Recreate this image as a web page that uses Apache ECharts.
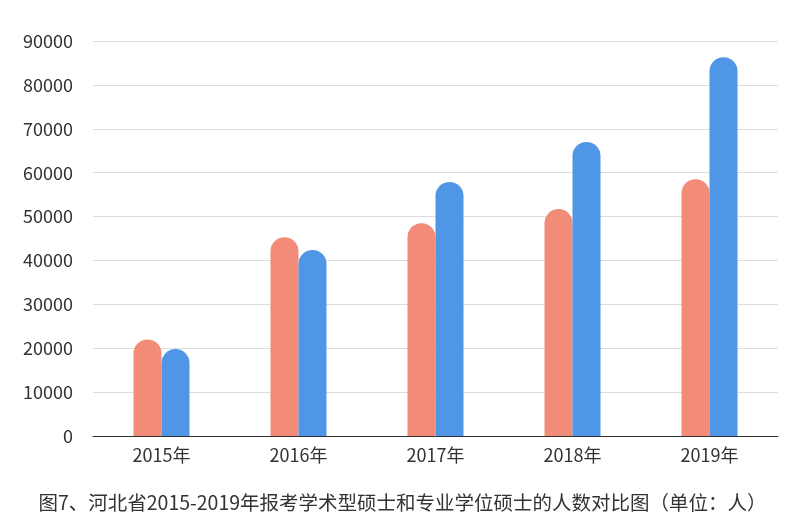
<!DOCTYPE html>
<html><head><meta charset="utf-8">
<script src="https://cdn.jsdelivr.net/npm/echarts@6/dist/echarts.min.js"></script>
<style>html,body{margin:0;padding:0;background:#fff}#c{width:805px;height:522px}</style>
</head><body><div id="c"></div>
<script>
const categories=['2015年','2016年','2017年','2018年','2019年'];
const academic=[22000,45300,48500,51700,58500];
const professional=[19800,42400,57900,67000,86300];
const title='图7、河北省2015-2019年报考学术型硕士和专业学位硕士的人数对比图（单位：人）';
const ch=echarts.init(document.getElementById('c'));
ch.setOption({
 animation:false,
 title:{text:title,left:'center',bottom:5,textStyle:{fontFamily:'Noto Sans CJK SC',fontSize:19.5,fontWeight:'normal',color:'#333'}},
 grid:{left:93,right:27,top:41,bottom:86},
 xAxis:{type:'category',data:categories,axisLine:{lineStyle:{color:'#333'}},axisTick:{length:6,lineStyle:{color:'#333'}},
  axisLabel:{fontFamily:'Noto Sans CJK SC',fontSize:18,color:'#333',margin:10}},
 yAxis:{type:'value',min:0,max:90000,interval:10000,axisLine:{show:false},axisTick:{show:false},
  splitLine:{lineStyle:{color:'#ddd'}},axisLabel:{fontFamily:'Noto Sans CJK SC',fontSize:18,color:'#333',margin:20,formatter:v=>String(v)}},
 series:[
  {type:'bar',data:academic,barWidth:28,barGap:'0%',itemStyle:{color:'#f28b78',borderRadius:[14,14,0,0]}},
  {type:'bar',data:professional,barWidth:28,itemStyle:{color:'#4f96e6',borderRadius:[14,14,0,0]}}
 ]
});
</script></body></html>
